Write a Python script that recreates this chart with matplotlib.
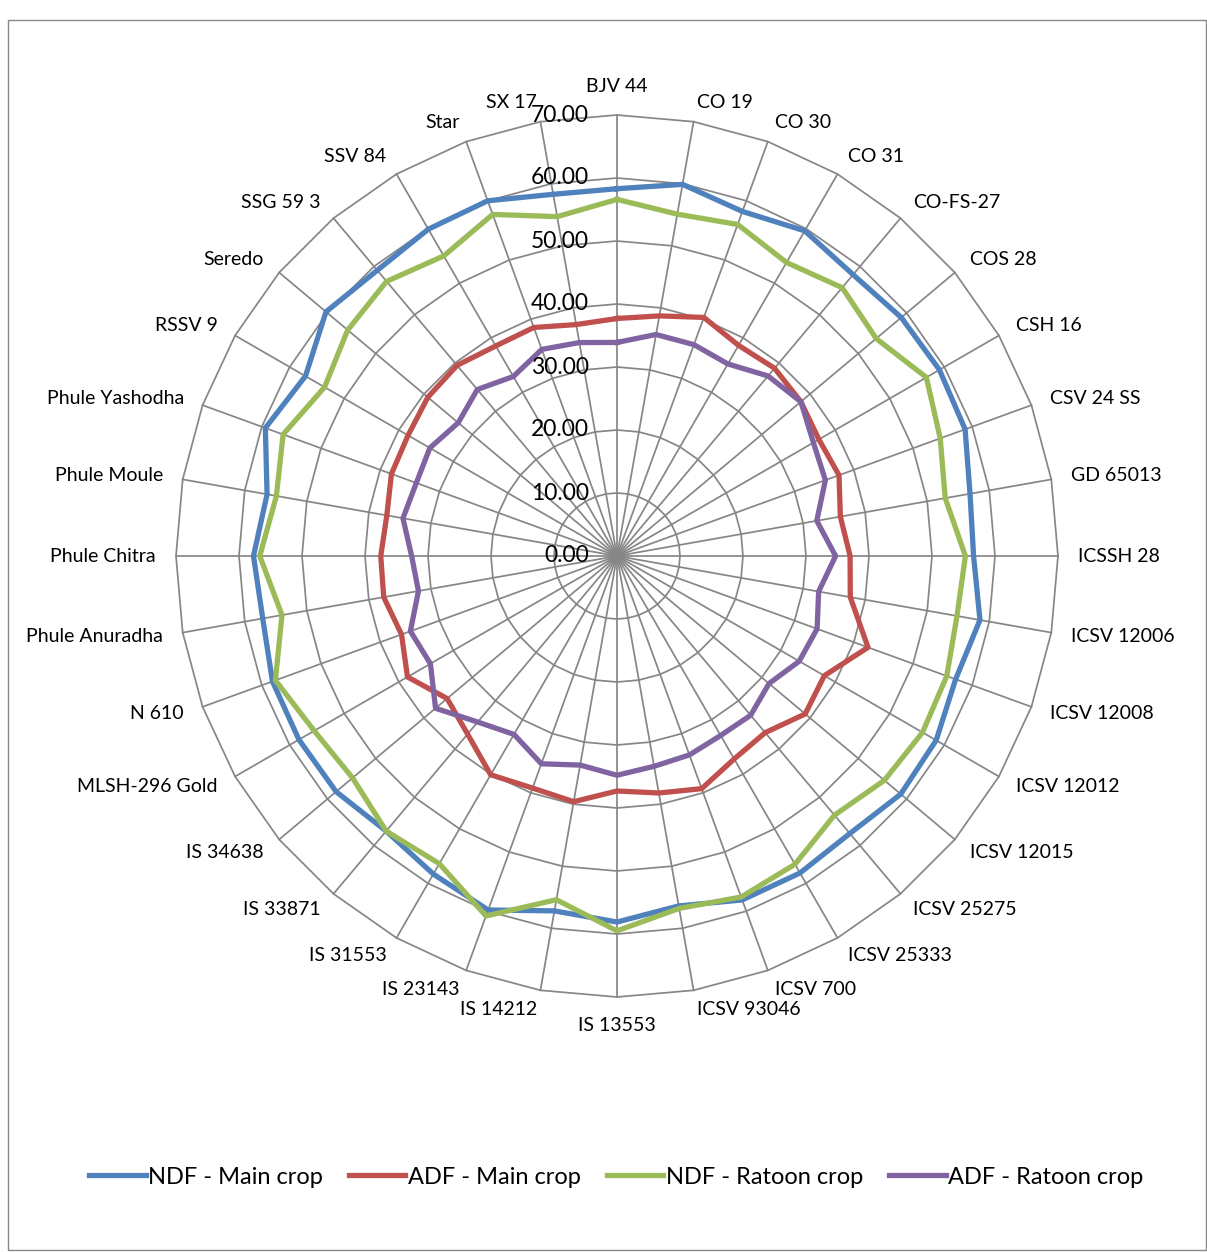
import numpy as np
import matplotlib.pyplot as plt
from matplotlib.transforms import offset_copy
from matplotlib.patches import Rectangle

# sorghum varieties, clockwise from the top spoke
varieties = [
    "BJV 44", "CO 19", "CO 30", "CO 31", "CO-FS-27", "COS 28", "CSH 16",
    "CSV 24 SS", "GD 65013", "ICSSH 28", "ICSV 12006", "ICSV 12008",
    "ICSV 12012", "ICSV 12015", "ICSV 25275", "ICSV 25333", "ICSV 700",
    "ICSV 93046", "IS 13553", "IS 14212", "IS 23143", "IS 31553", "IS 33871",
    "IS 34638", "MLSH-296 Gold", "N 610", "Phule Anuradha", "Phule Chitra",
    "Phule Moule", "Phule Yashodha", "RSSV 9", "Seredo", "SSG 59 3",
    "SSV 84", "Star", "SX 17",
]

ndf_main = [58.3, 59.9, 58.2, 59.6, 58.3, 58.9, 59.1, 58.8, 56.9, 56.6, 58.5, 57.2,
            58.5, 58.8, 57.5, 58.1, 58.1, 56.4, 58.1, 57.2, 59.8, 58.3, 57.0, 58.2,
            58.3, 58.2, 57.1, 57.7, 56.4, 59.4, 57.1, 60.3, 59.2, 59.9, 60.0, 58.3]
adf_main = [37.7, 38.7, 40.3, 38.6, 38.9, 38.1, 37.0, 37.5, 36.0, 37.0, 37.6, 42.4,
            38.0, 39.0, 36.6, 37.2, 39.3, 38.2, 37.3, 39.6, 39.2, 40.1, 36.9, 35.2,
            38.4, 36.4, 37.6, 37.5, 37.1, 38.1, 38.3, 39.2, 39.5, 38.5, 38.6, 37.3]
ndf_ratoon = [56.6, 55.1, 56.0, 53.8, 55.6, 53.7, 56.7, 54.6, 52.9, 55.3, 54.8, 55.7,
              56.0, 55.4, 53.7, 56.5, 57.6, 56.8, 59.5, 55.4, 60.8, 56.4, 57.0, 54.8,
              55.5, 57.7, 54.0, 56.7, 54.9, 56.4, 53.6, 55.8, 56.9, 55.0, 57.7, 54.7]
adf_ratoon = [33.9, 35.7, 35.7, 35.2, 37.3, 38.1, 36.0, 35.2, 32.2, 34.7, 32.5, 33.8,
              33.4, 31.5, 33.0, 32.9, 33.6, 33.9, 34.8, 33.7, 35.1, 32.7, 34.4, 37.6,
              34.2, 34.9, 32.0, 32.6, 34.5, 33.9, 34.3, 32.9, 34.5, 32.9, 34.9, 34.4]

ticks = [0, 10, 20, 30, 40, 50, 60, 70]

series = [
    (ndf_main, "NDF - Main crop", "#4F81BD"),
    (adf_main, "ADF - Main crop", "#C0504D"),
    (ndf_ratoon, "NDF - Ratoon crop", "#9BBB59"),
    (adf_ratoon, "ADF - Ratoon crop", "#8064A2"),
]

plt.rcParams['font.family'] = ['Lato', 'DejaVu Sans']

W, H = 1207, 1252
fig = plt.figure(figsize=(W / 100, H / 100), dpi=100)

# chart area border
fig.add_artist(Rectangle((8 / W, 2 / H), (W - 9) / W, (H - 22) / H,
                         transform=fig.transFigure, fill=False,
                         ec='#878787', lw=1))

ax = fig.add_axes([176 / W, 255 / H, 882 / W, 882 / H], projection='polar')
ax.set_theta_zero_location('N')
ax.set_theta_direction(-1)
ax.set_ylim(0, ticks[-1])
ax.grid(False)
ax.set_xticks([])
ax.set_yticks([])
ax.spines['polar'].set_visible(False)
ax.patch.set_alpha(0)

n = len(varieties)
theta = np.arange(n) * 2 * np.pi / n
closed = np.append(theta, theta[0])

# polygon grid and spokes
grid = '#868686'
for t in ticks[1:]:
    ax.plot(closed, [t] * (n + 1), color=grid, lw=1.25, zorder=1, clip_on=False)
for a in theta:
    ax.plot([a, a], [0, ticks[-1]], color=grid, lw=1.25, zorder=1, clip_on=False)

# category labels just outside the outer ring
pad = ticks[-1] * 20 / 441
for a, name in zip(theta, varieties):
    s, c = np.sin(a), np.cos(a)
    ha = 'left' if s > 0.05 else ('right' if s < -0.05 else 'center')
    if abs(s) <= 0.05:
        va = 'bottom' if c > 0 else 'top'
    else:
        va = 'center'
    ax.text(a, ticks[-1] + pad, name, ha=ha, va=va, fontsize=14, color='black')

# value labels along the top spoke
tick_tf = offset_copy(ax.transData, fig=fig, x=-28, y=0, units='dots')
for t in ticks:
    ax.text(0, t, f"{t:.2f}", transform=tick_tf, ha='right', va='center',
            fontsize=16.5, color='black', zorder=5)

for vals, label, color in series:
    ax.plot(closed, np.append(vals, vals[0]), color=color, lw=3.8,
            label=label, zorder=3)

fig.legend(loc='center', bbox_to_anchor=(616 / W, 75 / H), ncol=4,
           frameon=False, fontsize=17, handlelength=2.4, handletextpad=0.1,
           columnspacing=1.1)

fig.savefig('out.png', dpi=100)
